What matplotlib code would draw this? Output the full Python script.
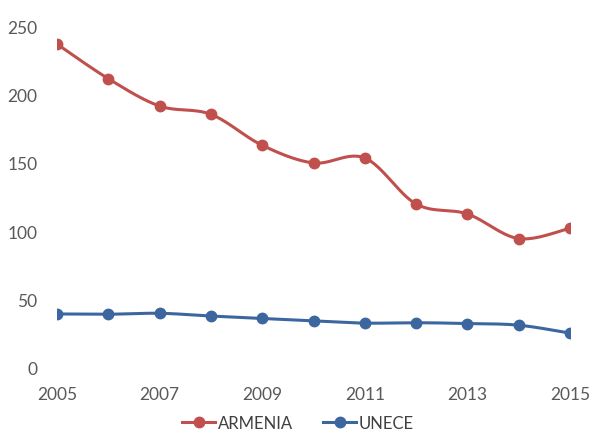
import numpy as np
import matplotlib
matplotlib.use("Agg")
import matplotlib.pyplot as plt

years = [2005, 2006, 2007, 2008, 2009, 2010, 2011, 2012, 2013, 2014, 2015]
armenia = [236.8, 211.5, 191.5, 185.4, 162.8, 149.9, 153.5, 119.9, 112.6, 94.6, 102.2]
unece = [39.5, 39.3, 40.0, 38.0, 36.2, 34.4, 32.8, 33.1, 32.5, 31.3, 25.5]
xticks = [2005, 2007, 2009, 2011, 2013, 2015]
yticks = [0, 50, 100, 150, 200, 250]
series_names = ["ARMENIA", "UNECE"]
colors = ["#C0504D", "#3C679E"]

plt.rcParams['font.family'] = ['Lato', 'DejaVu Sans']


def smooth(x, y, n=30):
    # Catmull-Rom style Bezier smoothing (like Excel smoothed lines)
    x = np.asarray(x, float)
    y = np.asarray(y, float)
    px, py = [], []
    m = len(x)
    for i in range(m - 1):
        x0, y0 = (x[i - 1], y[i - 1]) if i > 0 else (x[i], y[i])
        x1, y1 = x[i], y[i]
        x2, y2 = x[i + 1], y[i + 1]
        x3, y3 = (x[i + 2], y[i + 2]) if i + 2 < m else (x2, y2)
        c1x, c1y = x1 + (x2 - x0) / 6, y1 + (y2 - y0) / 6
        c2x, c2y = x2 - (x3 - x1) / 6, y2 - (y3 - y1) / 6
        t = np.linspace(0, 1, n, endpoint=(i == m - 2))
        bx = (1 - t) ** 3 * x1 + 3 * (1 - t) ** 2 * t * c1x + 3 * (1 - t) * t ** 2 * c2x + t ** 3 * x2
        by = (1 - t) ** 3 * y1 + 3 * (1 - t) ** 2 * t * c1y + 3 * (1 - t) * t ** 2 * c2y + t ** 3 * y2
        px.extend(bx)
        py.extend(by)
    return np.array(px), np.array(py)


fig = plt.figure(figsize=(5.92, 4.31), dpi=100)
ax = fig.add_axes([57 / 592, 62 / 431, (570 - 57) / 592, (368 - 26) / 431])

for name, vals, c in zip(series_names, [armenia, unece], colors):
    sx, sy = smooth(years, vals)
    ax.plot(sx, sy, color=c, lw=2.2, solid_capstyle='round', zorder=2)
    ax.plot(years, vals, 'o', color=c, ms=7.5, zorder=3)
    ax.plot([], [], '-o', color=c, lw=2.2, ms=7.5, label=name)

ax.set_xlim(2005, 2015)
ax.set_ylim(0, 250)
ax.set_xticks(xticks)
ax.set_yticks(yticks)
for s in ax.spines.values():
    s.set_visible(False)
ax.tick_params(axis='both', length=0, labelsize=12.5, colors='#595959')
ax.tick_params(axis='y', pad=14)
ax.tick_params(axis='x', pad=13)
for lab in ax.get_xticklabels() + ax.get_yticklabels():
    lab.set_color('#595959')

leg = ax.legend(loc='center', bbox_to_anchor=(298 / 592, 1 - 424 / 431), bbox_transform=fig.transFigure,
                ncol=2, frameon=False, fontsize=12, handlelength=2.0, columnspacing=1.8,
                handletextpad=0.15)
for t in leg.get_texts():
    t.set_color('#404040')

fig.savefig("out.png", dpi=100)
